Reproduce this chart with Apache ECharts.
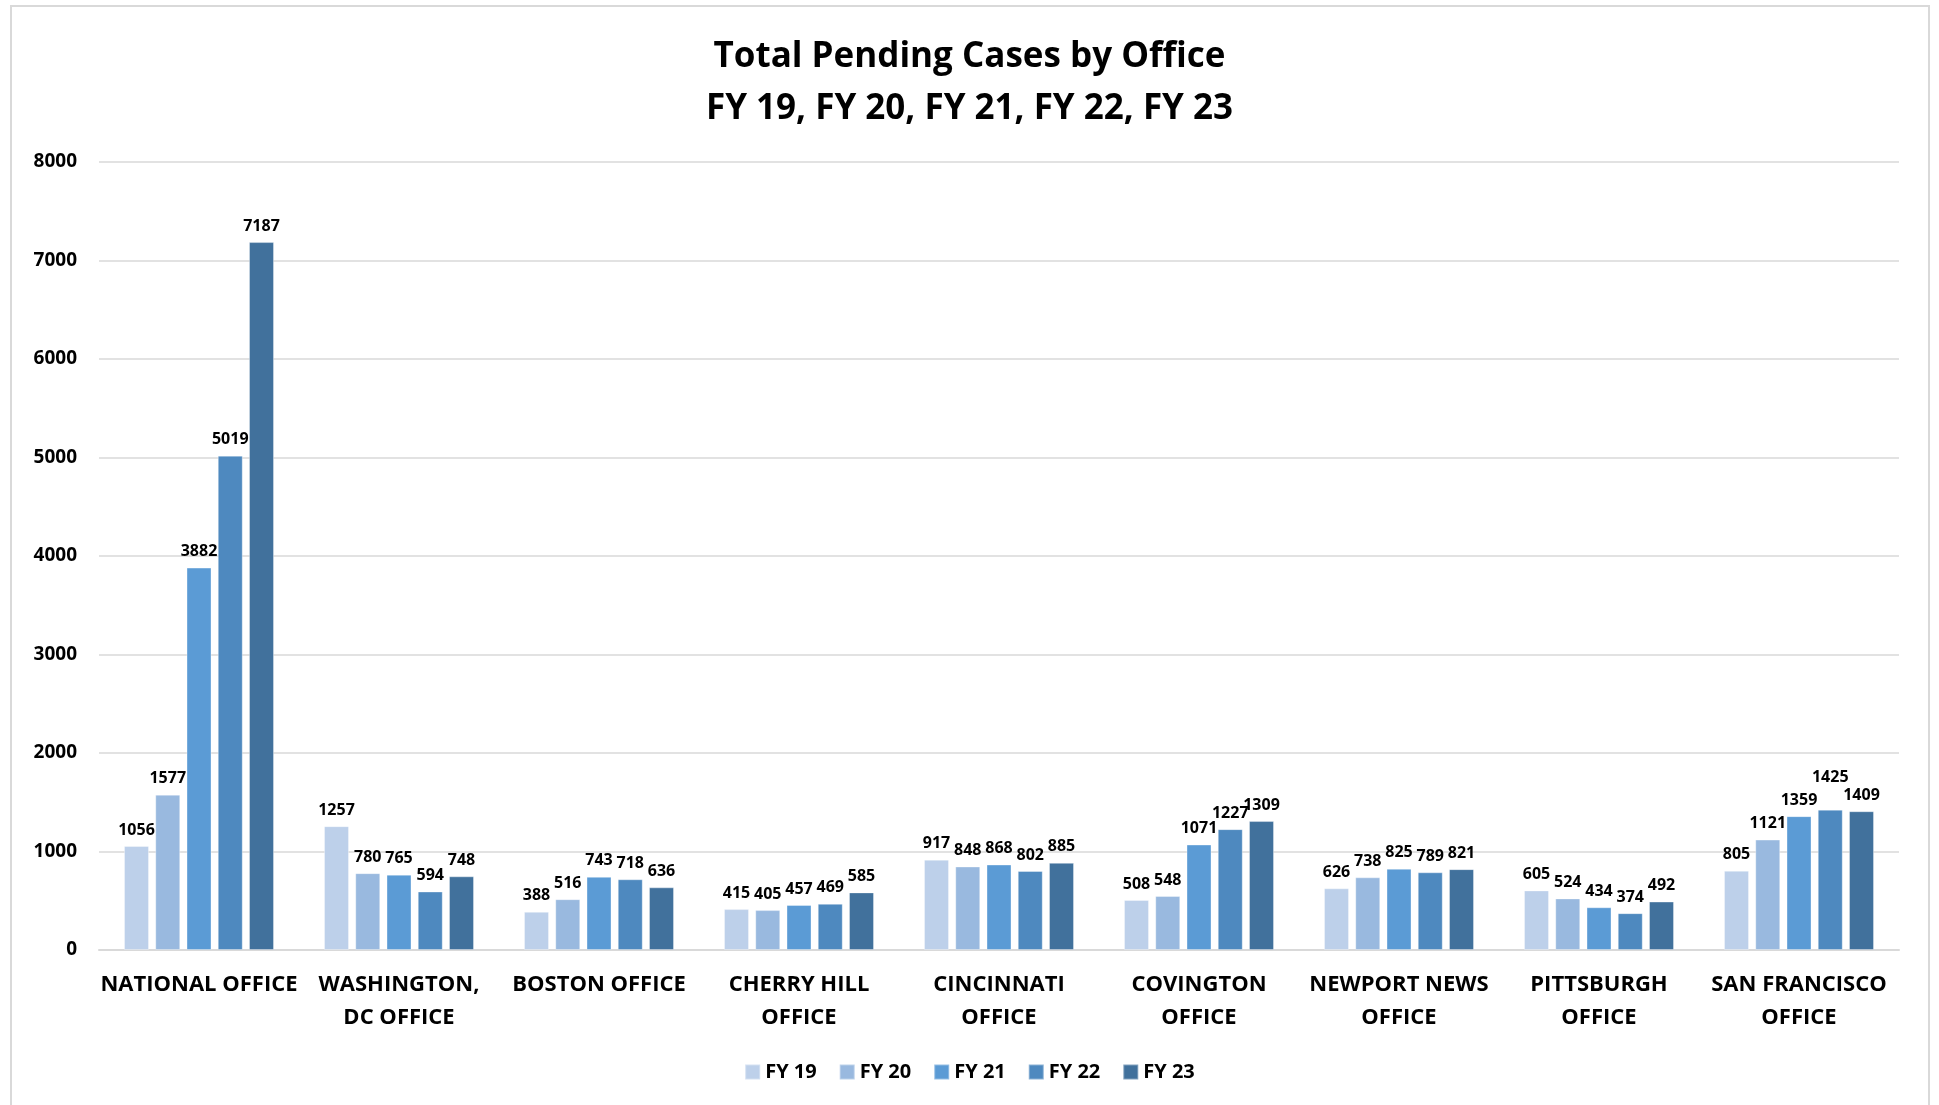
<!DOCTYPE html>
<html>
<head>
<meta charset="utf-8">
<script src="https://cdn.jsdelivr.net/npm/echarts@6/dist/echarts.min.js"></script>
<style>
  html, body { margin: 0; padding: 0; background: #fff; }
  #chart { width: 1939px; height: 1105px; box-sizing: border-box; }
  .frame { position: absolute; left: 10px; top: 5px; width: 1920px; height: 1110px; border: 2px solid #d9d9d9; box-sizing: border-box; pointer-events: none; }
</style>
</head>
<body>
<div id="chart"></div>
<div class="frame"></div>
<script>
// categories and values
const offices = [
  "NATIONAL OFFICE", "WASHINGTON,\nDC OFFICE", "BOSTON OFFICE", "CHERRY HILL\nOFFICE",
  "CINCINNATI\nOFFICE", "COVINGTON\nOFFICE", "NEWPORT NEWS\nOFFICE", "PITTSBURGH\nOFFICE",
  "SAN FRANCISCO\nOFFICE"
];
const years = ["FY 19", "FY 20", "FY 21", "FY 22", "FY 23"];
const fy19 = [1056, 1257, 388, 415, 917, 508, 626, 605, 805];
const fy20 = [1577, 780, 516, 405, 848, 548, 738, 524, 1121];
const fy21 = [3882, 765, 743, 457, 868, 1071, 825, 434, 1359];
const fy22 = [5019, 594, 718, 469, 802, 1227, 789, 374, 1425];
const fy23 = [7187, 748, 636, 585, 885, 1309, 821, 492, 1409];
const yTicks = [0, 1000, 2000, 3000, 4000, 5000, 6000, 7000, 8000];

const colors = ["#BDD0EA", "#99B9DF", "#5B9BD5", "#4E89BF", "#41719C"];
const font = '"Open Sans", sans-serif';

// the FY 22 label in San Francisco sits higher so it clears FY 23
function labelFor(seriesIdx, catIdx) {
  if (seriesIdx === 3 && catIdx === 8) return { offset: [0, -16] };
  return undefined;
}

const chart = echarts.init(document.getElementById("chart"));
chart.setOption({
  color: colors,
  textStyle: { fontFamily: font },
  title: {
    text: "Total Pending Cases by Office\nFY 19, FY 20, FY 21, FY 22, FY 23",
    left: "center",
    top: 26,
    textStyle: { fontSize: 35, fontWeight: "bold", color: "#000", lineHeight: 52, fontFamily: font }
  },
  legend: {
    bottom: 18,
    left: "center",
    itemWidth: 15,
    itemHeight: 15,
    itemGap: 22,
    icon: "rect",
    textStyle: { fontSize: 20, fontWeight: "bold", color: "#000", fontFamily: font }
  },
  grid: { left: 99, right: 40, top: 162, bottom: 155 },
  xAxis: {
    type: "category",
    data: offices,
    axisLine: { lineStyle: { color: "#d9d9d9", width: 2 } },
    axisTick: { show: false },
    axisLabel: { interval: 0, fontSize: 22, fontWeight: "bold", color: "#000", lineHeight: 33, margin: 18, fontFamily: font }
  },
  yAxis: {
    type: "value",
    min: yTicks[0],
    max: yTicks[yTicks.length - 1],
    interval: 1000,
    axisLine: { show: false },
    axisTick: { show: false },
    splitLine: { lineStyle: { color: "#d9d9d9", width: 1.5 } },
    axisLabel: { fontSize: 19, fontWeight: "bold", color: "#000", margin: 22, fontFamily: font, formatter: v => String(v) }
  },
  series: [fy19, fy20, fy21, fy22, fy23].map((vals, i) => ({
    name: years[i],
    type: "bar",
    data: vals.map((v, j) => {
      const lab = labelFor(i, j);
      return lab ? { value: v, label: lab } : v;
    }),
    barWidth: 25,
    barGap: "25%",
    itemStyle: { borderColor: "rgba(255,255,255,0.35)", borderWidth: 1 },
    label: { show: true, position: "top", distance: 8, fontSize: 16, fontWeight: "bold", color: "#000", fontFamily: font }
  }))
});
</script>
</body>
</html>
